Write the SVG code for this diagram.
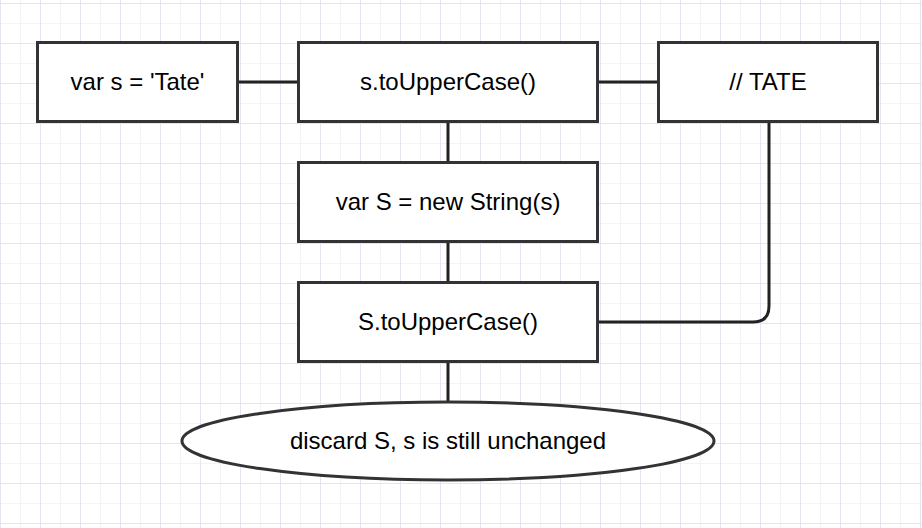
<svg xmlns="http://www.w3.org/2000/svg" width="922" height="528" viewBox="0 0 922 528">
<defs>
<pattern id="minor" width="20" height="20" patternUnits="userSpaceOnUse" x="0" y="3">
<path d="M0 0.5H20M0.5 0V20" fill="none" stroke="#f3f3fa" stroke-width="1"/>
</pattern>
<pattern id="major" width="40" height="40" patternUnits="userSpaceOnUse" x="0" y="3">
<path d="M0 0.5H40M0.5 0V40" fill="none" stroke="#e4e4f2" stroke-width="1"/>
</pattern>
</defs>
<style>
.box{fill:#fff;stroke:#333;stroke-width:3}
.lbl{font-family:"Liberation Sans",Arial,sans-serif;font-size:24px;fill:#000;text-anchor:middle}
.con{fill:none;stroke:#222;stroke-width:3}
</style>
<rect width="922" height="528" fill="#fff"/>
<rect width="922" height="528" fill="url(#minor)"/>
<rect width="922" height="528" fill="url(#major)"/>
<g id="connectors">
<path class="con" d="M238 82H298"/>
<path class="con" d="M598 82H658"/>
<path class="con" d="M448 122V162"/>
<path class="con" d="M448 242V282"/>
<path class="con" d="M448 362V402"/>
<path class="con" d="M769 122V306Q769 322 753 322H598"/>
</g>
<g id="n1"><rect class="box" x="37.5" y="42.5" width="200" height="79"/><text class="lbl" x="137.5" y="90">var s = 'Tate'</text></g>
<g id="n2"><rect class="box" x="298.5" y="42.5" width="299" height="79"/><text class="lbl" x="448" y="90">s.toUpperCase()</text></g>
<g id="n3"><rect class="box" x="658.5" y="42.5" width="219" height="79"/><text class="lbl" x="768" y="90">// TATE</text></g>
<g id="n4"><rect class="box" x="298.5" y="162.5" width="299" height="79"/><text class="lbl" x="448" y="210">var S = new String(s)</text></g>
<g id="n5"><rect class="box" x="298.5" y="282.5" width="299" height="79"/><text class="lbl" x="448" y="330">S.toUpperCase()</text></g>
<g id="n6"><ellipse class="box" cx="448" cy="441" rx="266" ry="39"/><text class="lbl" x="448" y="449">discard S, s is still unchanged</text></g>
</svg>
